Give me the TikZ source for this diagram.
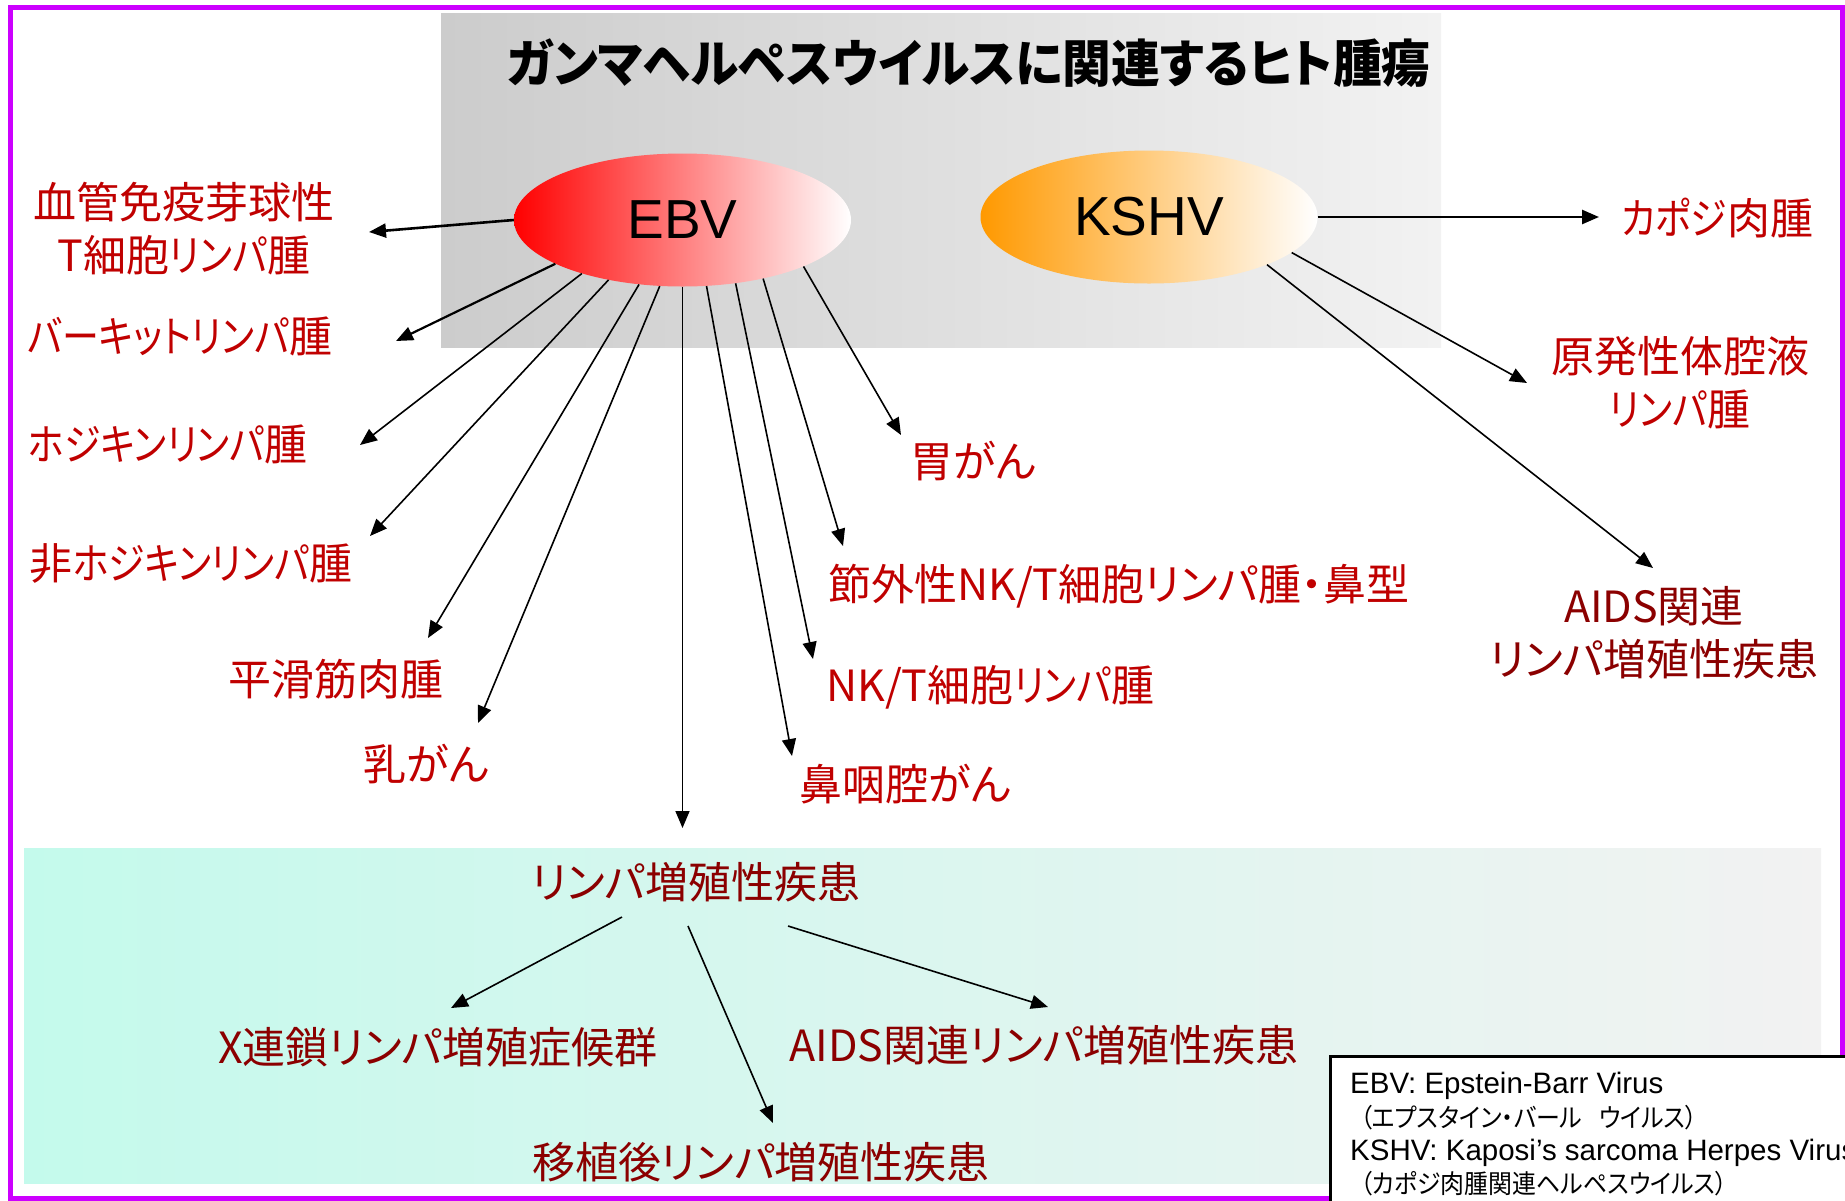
\documentclass[tikz,border=0pt]{standalone}
\usepackage{fontspec}
\usepackage{graphicx}
\setmainfont{Liberation Sans}
\newfontfamily\jp[RawFeature=+palt]{Noto Sans CJK JP}
\usetikzlibrary{arrows.meta,shapes.geometric}
\newcommand\kn[1]{\scalebox{0.86}[1]{#1}}
\definecolor{brd}{HTML}{CC00FF}
\definecolor{lbl}{HTML}{C00000}
\definecolor{dlbl}{HTML}{8B0000}
\definecolor{gL}{HTML}{CCCCCC}
\definecolor{gR}{HTML}{F2F2F2}
\definecolor{cL}{HTML}{C4FAEC}
\definecolor{orng}{HTML}{FF9900}
\tikzset{
  lab/.style={font=\jp\fontsize{43bp}{53bp}\selectfont, text=lbl, inner sep=0pt, align=center},
  dlab/.style={lab, text=dlbl},
  arr/.style={-{Triangle[length=17bp,width=14bp]}, line width=1.6bp, draw=black},
  virus/.style={ellipse, inner sep=0pt, minimum width=337bp, minimum height=133bp,
    font=\fontsize{55bp}{60bp}\selectfont},
  legtxt/.style={anchor=base west, inner sep=0pt, font=\fontsize{29.5bp}{34bp}\selectfont},
  legjp/.style={anchor=base west, inner sep=0pt, font=\jp\fontsize{26bp}{30bp}\selectfont},
}
\begin{document}
\begin{tikzpicture}[x=1bp,y=-1bp]
\useasboundingbox (0,0) rectangle (1845,1200);
\fill[white] (0,0) rectangle (1845,1200);
% outer border
\draw[brd, line width=5bp] (10,7.5) rectangle (1842,1198.5);
% backgrounds
\shade[left color=gL, right color=gR] (441,13) rectangle (1441,347);
\shade[left color=cL, right color=gR] (24,848) rectangle (1821,1183);
% title
\node[font=\jp\bfseries\fontsize{51bp}{56bp}\selectfont, inner sep=0pt] (title) at (969,63)
  {\scalebox{0.956}[1]{ガンマヘルペスウイルスに関連するヒト腫瘍}};
% viruses
\node[virus, left color=red, right color=white] (ebv) at (682.5,220) {EBV};
\node[virus, left color=orng, right color=white] (kshv) at (1149,217) {KSHV};
% EBV labels
\node[lab] (l1) at (184,228.5) {血管免疫芽球性\\T細胞\kn{リンパ}腫};
\node[lab] (l2) at (180,336) {\kn{バーキットリンパ}腫};
\node[lab] (l3) at (168,444) {\kn{ホジキンリンパ}腫};
\node[lab] (l4) at (191,563) {非\kn{ホジキンリンパ}腫};
\node[lab] (l5) at (336,679) {平滑筋肉腫};
\node[lab] (l6) at (426,764) {乳がん};
\node[lab] (l7) at (973,461) {胃がん};
\node[lab, anchor=west] (l8) at (828,586) {節外性NK/T細胞リンパ腫・鼻型};
\node[lab, anchor=west] (l9) at (826,687) {NK/T細胞\kn{リンパ}腫};
\node[lab, anchor=west] (l10) at (799,784) {鼻咽腔がん};
% KSHV labels
\node[lab] (k1l) at (1717,218) {\kn{カポジ}肉腫};
\node[lab] (k2l) at (1680,383) {原発性体腔液\\\kn{リンパ}腫};
\node[dlab] (k3l) at (1654,633) {AIDS関連\\リンパ増殖性疾患};
% lymphoproliferative
\node[dlab] (lpd) at (696,882) {リンパ増殖性疾患};
\node[dlab] (b1l) at (438,1047) {X連鎖リンパ増殖症候群};
\node[dlab] (b2l) at (761,1162) {移植後リンパ増殖性疾患};
\node[dlab] (b3l) at (1044,1045) {AIDS関連リンパ増殖性疾患};
% arrow tips
\coordinate (t1) at (369,232);
\coordinate (t2) at (396,341);
\coordinate (t3) at (360,445);
\coordinate (t4) at (370,536);
\coordinate (t5) at (428,638);
\coordinate (t6) at (478,723);
\coordinate (t7) at (682.5,828);
\coordinate (t8) at (792,756);
\coordinate (t9) at (813,659);
\coordinate (t10) at (843,546);
\coordinate (t11) at (901,435);
\coordinate (k1) at (1599,217);
\coordinate (k2) at (1527,383);
\coordinate (k3) at (1653,568);
\coordinate (s1) at (622,917);
\coordinate (s2) at (688,926);
\coordinate (s3) at (788,926);
\coordinate (b1) at (451,1008);
\coordinate (b2) at (773,1123);
\coordinate (b3) at (1048,1007);
% EBV arrows
\draw[arr, line width=2.6bp] (ebv.180) -- (t1);
\draw[arr, line width=2.2bp] (ebv.199) -- (t2);
\draw[arr] (ebv.208) -- (t3);
\draw[arr] (ebv.219) -- (t4);
\draw[arr] (ebv.236) -- (t5);
\draw[arr] (ebv.251.6) -- (t6);
\draw[arr] (ebv.270) -- (t7);
\draw[arr] (ebv.290.4) -- (t8);
\draw[arr] (ebv.310.3) -- (t9);
\draw[arr] (ebv.324.7) -- (t10);
\draw[arr] (ebv.339.1) -- (t11);
% KSHV arrows
\draw[arr, line width=2.6bp] (kshv.0) -- (k1);
\draw[arr] (kshv.346.8) -- (k2);
\draw[arr] (kshv.338.6) -- (k3);
% LPD arrows
\draw[arr] (s1) -- (b1);
\draw[arr] (s2) -- (b2);
\draw[arr] (s3) -- (b3);
% legend
\node[draw=black, line width=2.5bp, fill=white, anchor=north west, minimum width=560bp,
  minimum height=200bp, inner sep=0pt] (legend) at (1329,1055) {};
\node[legtxt] (leg1) at (1350,1093) {EBV: Epstein-Barr Virus};
\node[legjp] (leg2) at (1360,1127) {\scalebox{0.92}[1]{（エプスタイン・バール\hspace{18bp}ウイルス）}};
\node[legtxt] (leg3) at (1350,1160) {KSHV: Kaposi’s sarcoma Herpes Virus};
\node[legjp] (leg4) at (1360,1193) {\scalebox{0.92}[1]{（カポジ肉腫関連ヘルペスウイルス）}};
\end{tikzpicture}
\end{document}
